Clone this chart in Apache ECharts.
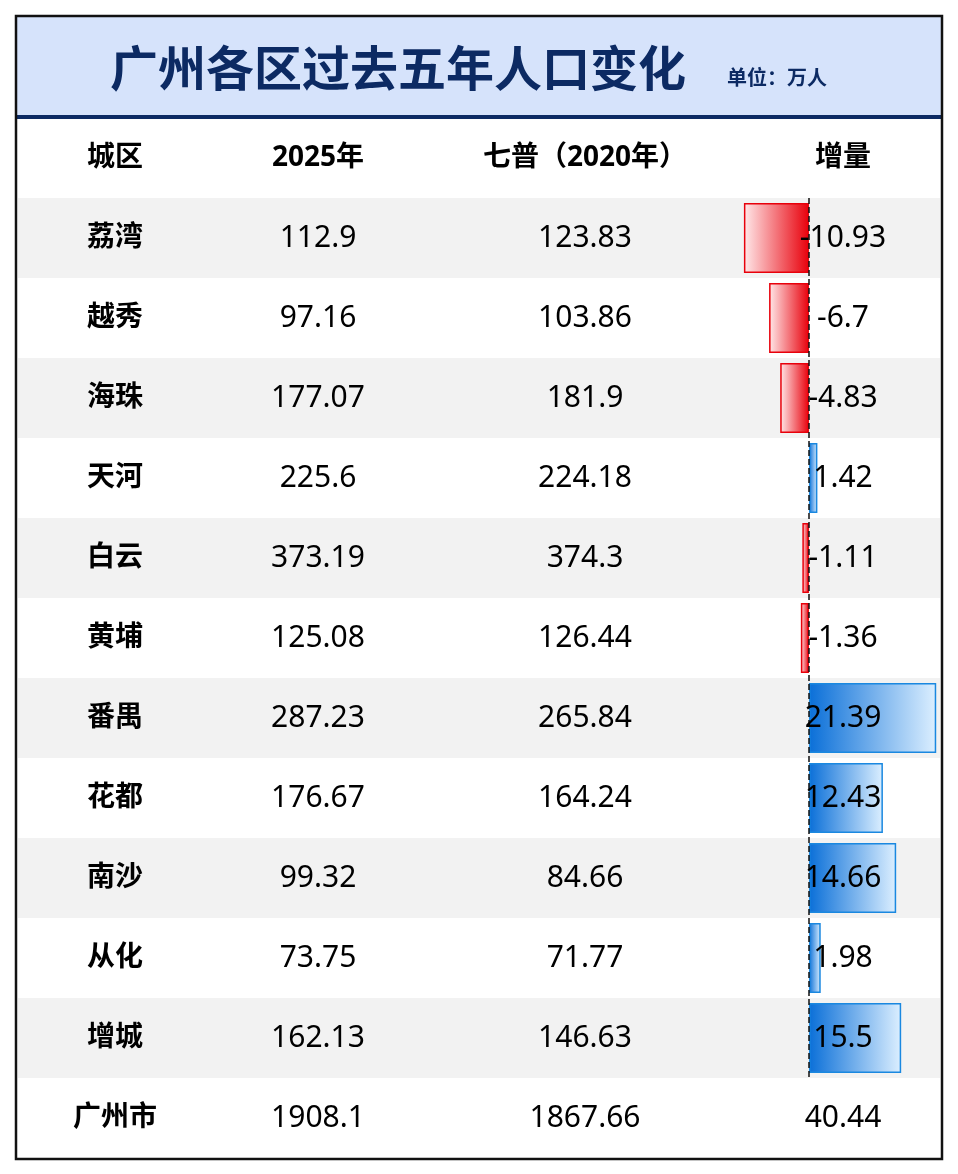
<!DOCTYPE html>
<html><head><meta charset="utf-8">
<script src="https://cdn.jsdelivr.net/npm/echarts@6/dist/echarts.min.js"></script>
<style>html,body{margin:0;padding:0;background:#fff}#c{width:958px;height:1174px}</style>
</head><body><div id="c"></div>
<script>
const headers = ['城区','2025年','七普（2020年）','增量'];
const districts = ['荔湾','越秀','海珠','天河','白云','黄埔','番禺','花都','南沙','从化','增城'];
const pop2025 = [112.9,97.16,177.07,225.6,373.19,125.08,287.23,176.67,99.32,73.75,162.13];
const pop2020 = [123.83,103.86,181.9,224.18,374.3,126.44,265.84,164.24,84.66,71.77,146.63];
const change = [-10.93,-6.7,-4.83,1.42,-1.11,-1.36,21.39,12.43,14.66,1.98,15.5];
const totalName = '广州市';
const total2025 = 1908.1, total2020 = 1867.66, totalChange = 40.44;

const colX = [115, 318, 585, 843];
const rows = ['h'].concat(districts, [totalName]);
const font = '"Noto Sans","Noto Sans CJK SC",sans-serif';

const col0 = [headers[0]].concat(districts,[totalName]);
const col1 = [headers[1]].concat(pop2025.map(String),[String(total2025)]);
const col2 = [headers[2]].concat(pop2020.map(String),[String(total2020)]);
const col3 = [headers[3]].concat(change.map(String),[String(totalChange)]);

function mk(texts, col, allBold){
  return {
    type:'scatter', xAxisIndex:0, yAxisIndex:0, symbolSize:0, z:10, silent:true,
    itemStyle:{opacity:1},
    data: texts.map((t,i)=>({value:[colX[col], i],
      label:{fontWeight:(allBold||i===0)?'bold':'normal', fontSize:(allBold||i===0)?28:30}})),
    label:{show:true, position:'inside', fontFamily:font, fontSize:30, color:'#000',
      formatter:p=>texts[p.dataIndex]}
  };
}

const redGrad = new echarts.graphic.LinearGradient(0,0,1,0,[{offset:0,color:'#ffe9ea'},{offset:1,color:'#e8000b'}]);
const blueGrad = new echarts.graphic.LinearGradient(0,0,1,0,[{offset:0,color:'#0a6fd8'},{offset:1,color:'#dcefff'}]);

const chart = echarts.init(document.getElementById('c'));
chart.setOption({
  animation:false,
  grid:[
    {left:18, right:18, top:118, height:1040},
    {left:743.5, width:196.35, top:198, height:880}
  ],
  xAxis:[
    {gridIndex:0, type:'value', min:18, max:940, show:false},
    {gridIndex:1, type:'value', min:-11, max:22, show:false}
  ],
  yAxis:[
    {gridIndex:0, type:'category', inverse:true, data:rows.map((r,i)=>i),
      axisLine:{show:false}, axisTick:{show:false}, axisLabel:{show:false},
      splitArea:{show:true, areaStyle:{color:['#ffffff','#f2f2f2']}}},
    {gridIndex:1, type:'category', inverse:true, data:districts, show:false}
  ],
  graphic:[
    {type:'rect', shape:{x:17,y:17,width:924,height:99}, style:{fill:'#d6e3fb'}, z:-1},
    {type:'rect', shape:{x:17,y:115,width:924,height:4}, style:{fill:'#0c2a63'}, z:5},
    {type:'text', x:398, y:68, style:{text:'广州各区过去五年人口变化', fontFamily:'"Noto Sans CJK SC",sans-serif', fontSize:48, fontWeight:'bold', fill:'#0c2a63', align:'center', verticalAlign:'middle'}, z:5},
    {type:'text', x:727, y:77, style:{text:'单位：万人', fontFamily:'"Noto Sans CJK SC",sans-serif', fontSize:20, fontWeight:'bold', fill:'#0c2a63', align:'left', verticalAlign:'middle'}, z:5},
    {type:'rect', shape:{x:16,y:16,width:926,height:1143}, style:{fill:'none', stroke:'#111', lineWidth:2.5}, z:20}
  ],
  series:[
    {type:'bar', xAxisIndex:1, yAxisIndex:1, barWidth:70, z:3,
      data: change.map(v=>({value:v, itemStyle:{color: v<0?redGrad:blueGrad, borderColor: v<0?'#e8000b':'#1a88e0', borderWidth:1.5}})),
      markLine:{symbol:'none', silent:true, label:{show:false},
        lineStyle:{type:'dashed', color:'#111', width:1.5},
        data:[{xAxis:0}]}
    },
    mk(col0,0,true), mk(col1,1,false), mk(col2,2,false), mk(col3,3,false)
  ]
});
</script></body></html>
